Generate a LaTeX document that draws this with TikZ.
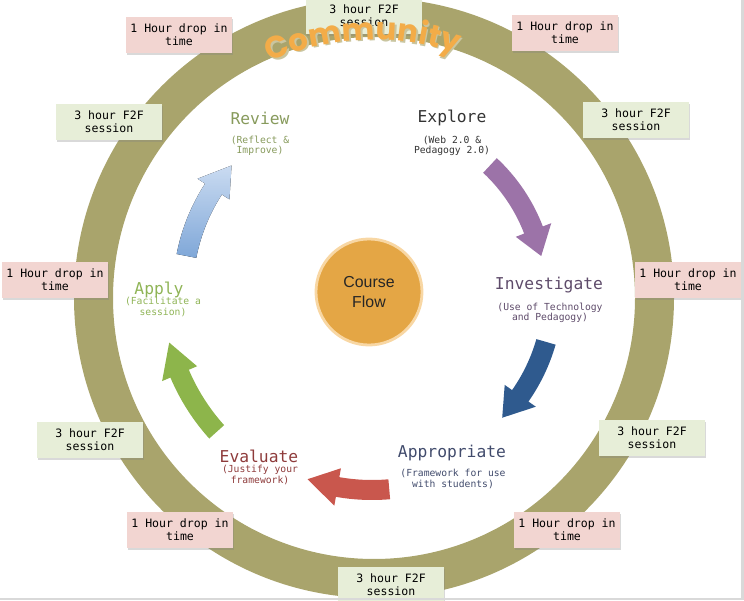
\documentclass[tikz,border=0pt]{standalone}
\usepackage{fontspec}
\setmainfont{Liberation Sans}
\setmonofont{DejaVu Sans Mono}
\newfontfamily\commfont{Poppins}
\usetikzlibrary{positioning,shadows,decorations.text}

\definecolor{ringolive}{HTML}{A9A46C}
\definecolor{droppink}{HTML}{F2D5D1}
\definecolor{sessgreen}{HTML}{E7EED8}
\definecolor{courseorange}{HTML}{E4A645}
\definecolor{courserim}{HTML}{F8D7A4}
\definecolor{commorange}{HTML}{F3AC48}
\definecolor{commshadow}{HTML}{C9C5A0}
\definecolor{explorecol}{HTML}{333333}
\definecolor{investcol}{HTML}{5E4B6A}
\definecolor{appropcol}{HTML}{414B6C}
\definecolor{evalcol}{HTML}{8E3B3B}
\definecolor{applycol}{HTML}{8FB456}
\definecolor{reviewcol}{HTML}{879A5C}
\definecolor{purplearrow}{HTML}{9C73A8}
\definecolor{bluearrow}{HTML}{2F5A8E}
\definecolor{redarrow}{HTML}{C9574D}
\definecolor{greenarrow}{HTML}{8DB54B}
\definecolor{skytop}{HTML}{CADBF1}
\definecolor{skybottom}{HTML}{7FA7D8}

\def\flowarrow[#1](#2)(#3:#4:#5){\fill[#1,shift={(#2)}] (#3:#5+10) arc[start angle=#3, end angle=#4+9, radius=#5+10] -- (#4+9:#5+19) -- (#4:#5) -- (#4+9:#5-19) -- (#4+9:#5-10) arc[start angle=#4+9, end angle=#3, radius=#5-10] -- cycle;}

\tikzset{
  timebox/.style={minimum width=2.65cm, minimum height=0.9cm, inner sep=0pt, align=center,
    font=\ttfamily\fontsize{8.2}{9.4}\selectfont,
    drop shadow={shadow xshift=0.6pt, shadow yshift=-1.2pt, opacity=0.3}},
  droptime/.style={timebox, fill=droppink},
  session/.style={timebox, fill=sessgreen},
  stagetitle/.style={inner sep=0pt, font=\ttfamily\fontsize{11.6}{13}\selectfont},
  stagenote/.style={inner sep=0pt, align=center, font=\ttfamily\fontsize{6.9}{7.5}\selectfont}
}

\begin{document}
\begin{tikzpicture}[x=0.025cm, y=0.025cm]
  %%%%% START %%%%%
  \useasboundingbox (0,0) rectangle (744,600);

  % the community ring
  \fill[ringolive, even odd rule] (374,302) circle (300) (374,302) circle (261);

  % stages
  \node[stagetitle, text=explorecol] (explore) at (452,482) {Explore};
  \node[stagenote, text=explorecol] (explorenote) at (452,454) {(Web 2.0 \&\\Pedagogy 2.0)};
  \node[stagetitle, text=investcol] (investigate) at (549,315) {Investigate};
  \node[stagenote, text=investcol] (investnote) at (550,287) {(Use of Technology\\and Pedagogy)};
  \node[stagetitle, text=appropcol] (appropriate) at (452,147) {Appropriate};
  \node[stagenote, text=appropcol] (appropnote) at (453,121) {(Framework for use\\with students)};
  \node[stagetitle, text=evalcol] (evaluate) at (259,144) {Evaluate};
  \node[stagenote, text=evalcol] (evalnote) at (260,125) {(Justify your\\framework)};
  \node[stagetitle, text=applycol] (apply) at (159,310) {Apply};
  \node[stagenote, text=applycol] (applynote) at (163,293) {(Facilitate a\\session)};
  \node[stagetitle, text=reviewcol] (review) at (260,482) {Review};
  \node[stagenote, text=reviewcol] (reviewnote) at (260,454) {(Reflect \&\\Improve)};

  % flow arrows
  \flowarrow[purplearrow](372,308)(47:12:173);
  \flowarrow[bluearrow](372,308)(-16:-44:181);
  \flowarrow[redarrow](372,308)(-85:-109:198);
  \flowarrow[greenarrow](372,308)(222:194:209);
  \flowarrow[top color=skytop, bottom color=skybottom](372,308)(169:138:189);

  % centre
  \node[circle, minimum size=2.65cm, fill=courseorange, draw=courserim, line width=2pt,
    align=center, text=black!85, font=\fontsize{11.3}{14}\selectfont] (course) at (369,308) {Course\\Flow};

  % sessions and drop in times
  \node[session, minimum width=2.875cm] (sesstop) at (364,584) {3 hour F2F\\session};
  \node[droptime] (droptl) at (179,565) {1 Hour drop in\\time};
  \node[droptime] (droptr) at (565,567) {1 Hour drop in\\time};
  \node[session] (sesslt) at (109,478) {3 hour F2F\\session};
  \node[session] (sessrt) at (636,480) {3 hour F2F\\session};
  \node[droptime] (dropl) at (55,320) {1 Hour drop in\\time};
  \node[droptime] (dropr) at (688,320) {1 Hour drop in\\time};
  \node[session] (sesslb) at (90,160) {3 hour F2F\\session};
  \node[session] (sessrb) at (652,162) {3 hour F2F\\session};
  \node[droptime] (dropbl) at (180,70) {1 Hour drop in\\time};
  \node[droptime] (dropbr) at (567,70) {1 Hour drop in\\time};
  \node[session] (sessbot) at (391,15) {3 hour F2F\\session};

  % community label on the ring
  \path[decorate, decoration={text along path, text align=center, text color=commshadow,
    text={|\commfont\bfseries\fontsize{22}{22}\selectfont|Community}}]
    (375.5,300.5) ++(114.5:258) arc[start angle=114.5, end angle=70.5, radius=258];
  \path[decorate, decoration={text along path, text align=center, text color=commorange,
    text={|\commfont\bfseries\fontsize{22}{22}\selectfont|Community}}]
    (374,302) ++(114.5:258) arc[start angle=114.5, end angle=70.5, radius=258];

  \draw[black!15, line width=1.5pt] (0,1) -- (742.5,1) -- (742.5,600);
  %%%%% END %%%%%
\end{tikzpicture}
\end{document}
